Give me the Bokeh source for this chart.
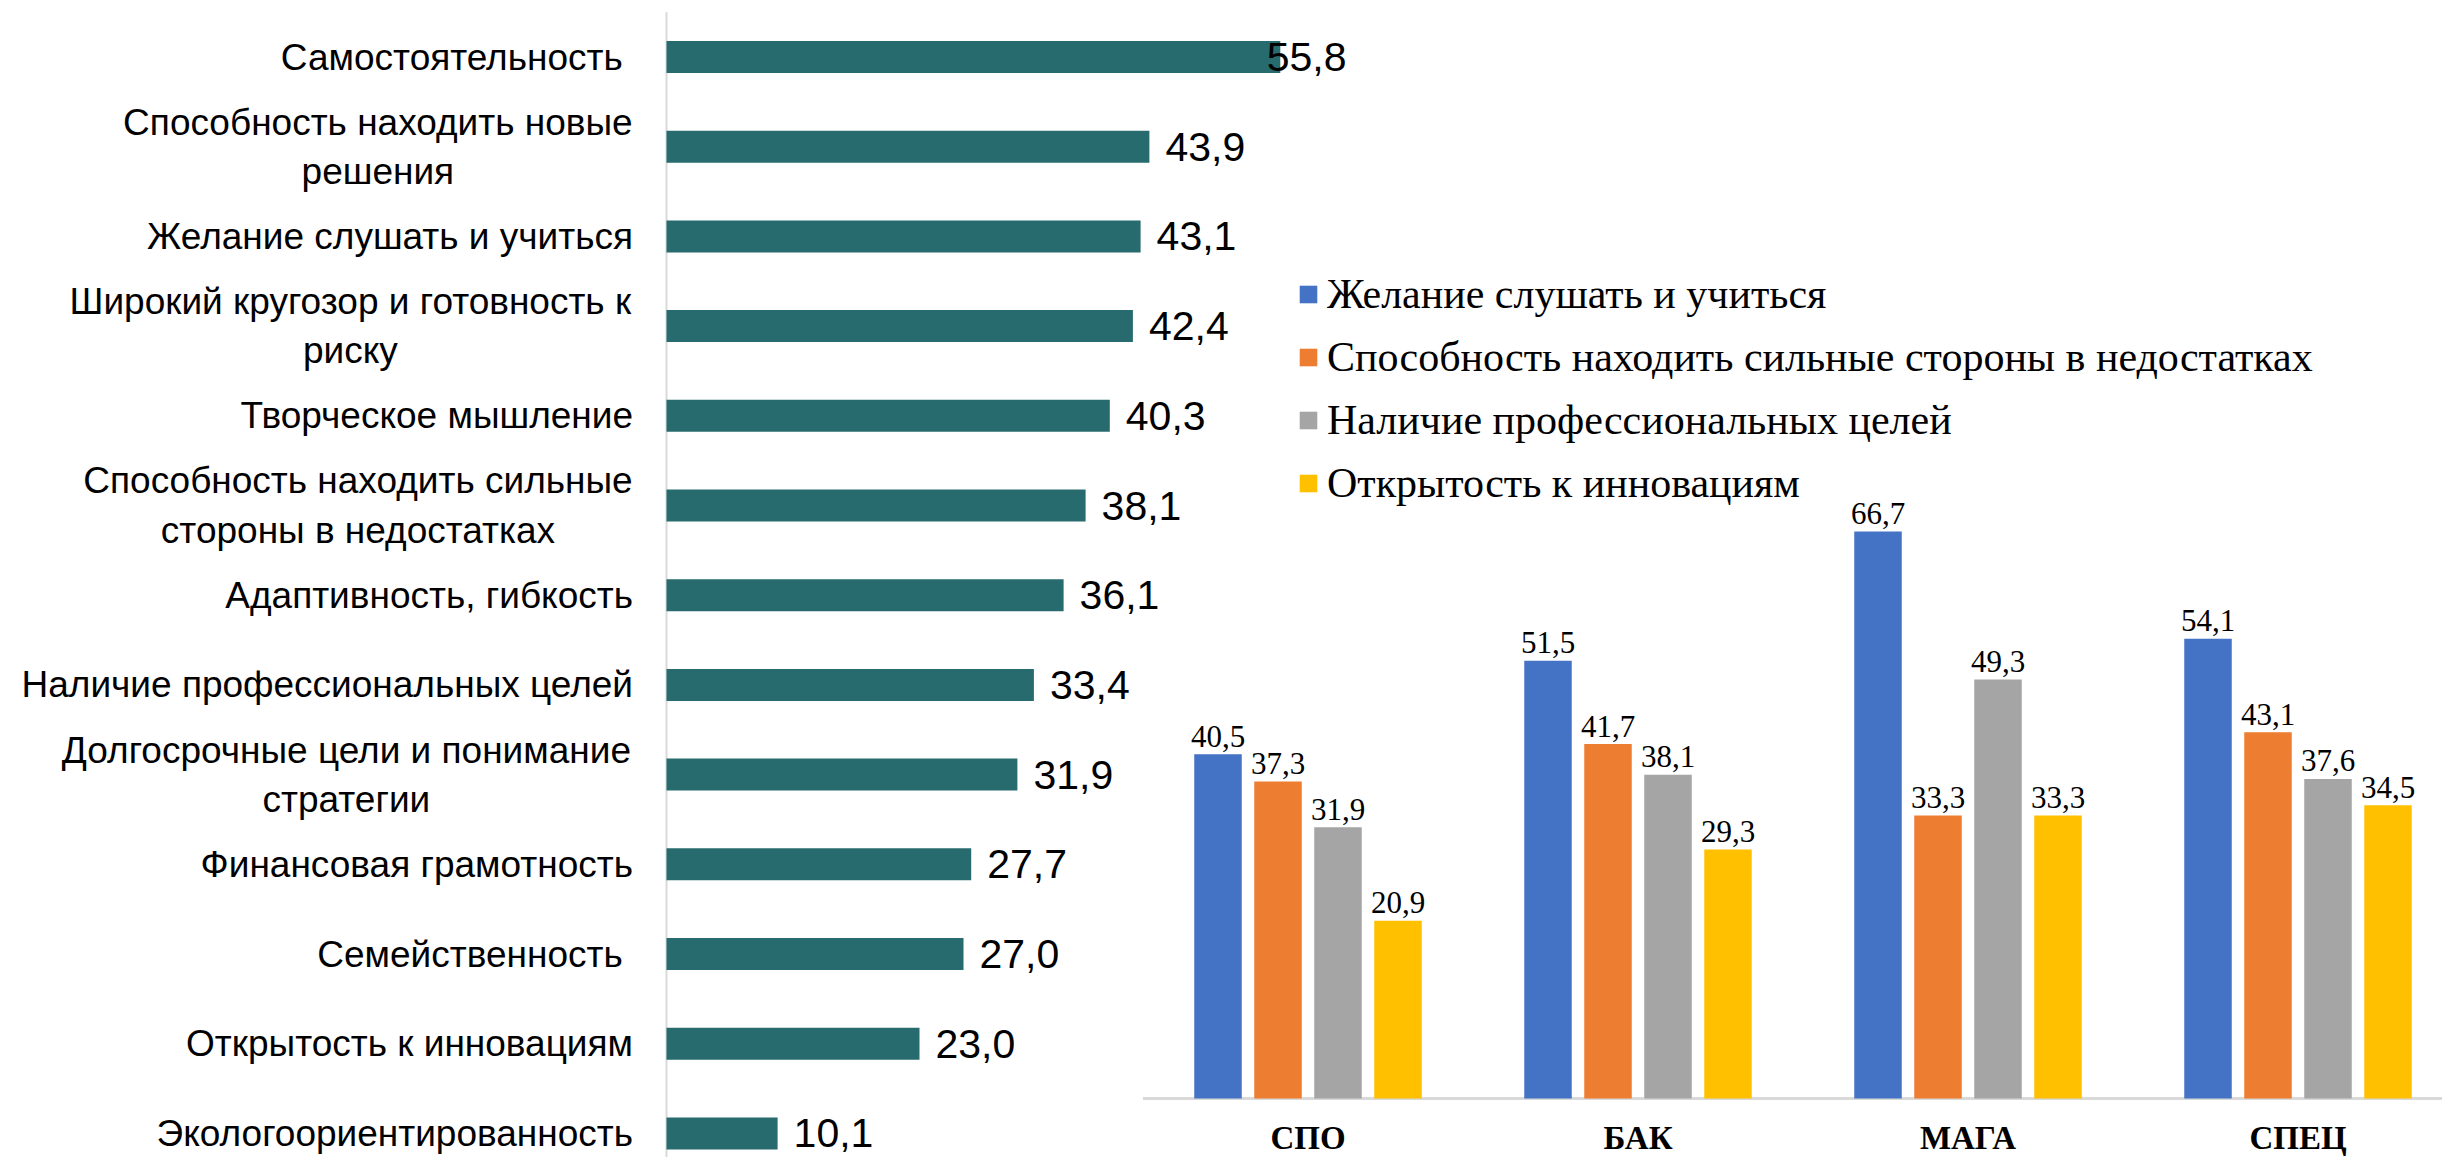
import numpy as np
from bokeh.plotting import figure
from bokeh.models import Range1d, Legend, LegendItem
from bokeh.core.properties import value
from bokeh.embed import file_html
from bokeh.resources import INLINE

# ---------------- data ----------------
qualities = [
    "Самостоятельность ",
    "Способность находить новые\nрешения",
    "Желание слушать и учиться",
    "Широкий кругозор и готовность к\nриску",
    "Творческое мышление",
    "Способность находить сильные\nстороны в недостатках",
    "Адаптивность, гибкость",
    "Наличие профессиональных целей",
    "Долгосрочные цели и понимание\nстратегии",
    "Финансовая грамотность",
    "Семейственность ",
    "Открытость к инновациям",
    "Экологоориентированность",
]
quality_values = [55.8, 43.9, 43.1, 42.4, 40.3, 38.1, 36.1, 33.4, 31.9, 27.7, 27.0, 23.0, 10.1]

levels = ["СПО", "БАК", "МАГА", "СПЕЦ"]
series_names = [
    "Желание слушать и учиться",
    "Способность находить сильные стороны в недостатках",
    "Наличие профессиональных целей",
    "Открытость к инновациям",
]
s_learn = [40.5, 51.5, 66.7, 54.1]
s_strengths = [37.3, 41.7, 33.3, 43.1]
s_goals = [31.9, 38.1, 49.3, 37.6]
s_innov = [20.9, 29.3, 33.3, 34.5]
series_values = [s_learn, s_strengths, s_goals, s_innov]
series_colors = ["#4472C4", "#ED7D31", "#A5A5A5", "#FFC000"]
teal = "#286B6E"

# ---------------- layout constants (pixels) ----------------
W, H = 2442, 1157
L_ZERO = 666.0      # x of left value axis
L_PPU = 11.0        # px per unit (left)
ROW0 = 56.5         # y of first row
ROW_PX = 89.7       # row pitch
R_G0 = 1307.5       # x of first group center
G_PX = 330.0        # group pitch
BASE = 1098.0       # y of right baseline
R_PPU = 8.5         # px per unit (right)

ARIAL = {
    'а': 556, 'б': 573, 'в': 531, 'г': 365, 'д': 583, 'е': 556, 'ж': 669, 'з': 458,
    'и': 559, 'й': 559, 'к': 438, 'л': 583, 'м': 688, 'н': 552, 'о': 556, 'п': 542,
    'р': 556, 'с': 500, 'т': 458, 'у': 500, 'ф': 823, 'х': 500, 'ц': 583, 'ч': 521,
    'ш': 802, 'щ': 823, 'ъ': 625, 'ы': 719, 'ь': 521, 'э': 510, 'ю': 750, 'я': 542,
    'С': 722, 'Ш': 906, 'Д': 677, ' ': 278, ',': 278,
}


def arial_width(s, size):
    return sum(ARIAL.get(c, 556) for c in s) * size / 1000.0


def fmt(v):
    return f"{v:.1f}".replace(".", ",")


p = figure(
    width=W, height=H, output_backend="svg", toolbar_location=None,
    x_range=Range1d(-L_ZERO / L_PPU, (W - L_ZERO) / L_PPU),
    y_range=Range1d((H - ROW0) / ROW_PX, -ROW0 / ROW_PX),
    x_axis_location=None, y_axis_location=None, min_border=0,
)
p.grid.visible = False
p.outline_line_color = None
p.background_fill_color = "white"

p.extra_x_ranges = {"rx": Range1d(-R_G0 / G_PX, (W - R_G0) / G_PX)}
p.extra_y_ranges = {"ry": Range1d(-(H - BASE) / R_PPU, BASE / R_PPU)}

# ---------------- left chart ----------------
rows = np.arange(len(qualities))
p.segment(x0=[0], y0=[-0.5], x1=[0], y1=[len(qualities) + 1], line_color="#D9D9D9", line_width=2)
p.hbar(y=rows, left=0, right=quality_values, height=32 / ROW_PX, fill_color=teal, line_color=None)

LABEL_SIZE = 37
right_edge = -33.5 / L_PPU
single = [(i, q) for i, q in enumerate(qualities) if "\n" not in q]
multi = [(i, q) for i, q in enumerate(qualities) if "\n" in q]
p.text(x=[right_edge] * len(single), y=[i for i, _ in single], text=[q for _, q in single],
       text_font=value("Liberation Sans"), text_font_size=f"{LABEL_SIZE}px",
       text_align="right", text_baseline="middle", text_color="black")
centers = [right_edge - max(arial_width(l, LABEL_SIZE) for l in q.split("\n")) / 2 / L_PPU for _, q in multi]
p.text(x=centers, y=[i for i, _ in multi], text=[q for _, q in multi],
       text_font=value("Liberation Sans"), text_font_size=f"{LABEL_SIZE}px",
       text_align="center", text_baseline="middle", text_color="black", text_line_height=1.2)

VAL_SIZE = 41
limit_px = 1346 - L_ZERO
vx = [min(v + 16 / L_PPU, (limit_px - arial_width(fmt(v), VAL_SIZE)) / L_PPU) for v in quality_values]
p.text(x=vx, y=rows, text=[fmt(v) for v in quality_values],
       text_font=value("Liberation Sans"), text_font_size=f"{VAL_SIZE}px",
       text_align="left", text_baseline="middle", text_color="black")

# ---------------- right chart ----------------
p.segment(x0=[-0.5], y0=[0], x1=[len(levels) + 0.5], y1=[0], line_color="#D9D9D9", line_width=3,
          x_range_name="rx", y_range_name="ry")
gx = np.arange(len(levels))
bar_w = 47.5 / G_PX
step = 60 / G_PX
items = []
for k, (name, vals, col) in enumerate(zip(series_names, series_values, series_colors)):
    xs = gx + (k - 1.5) * step
    r = p.vbar(x=xs, top=vals, bottom=0, width=bar_w, fill_color=col, line_color=None,
               x_range_name="rx", y_range_name="ry")
    p.text(x=xs, y=[v + 18 / R_PPU for v in vals], text=[fmt(v) for v in vals],
           text_font=value("Liberation Serif"), text_font_size="31px",
           text_align="center", text_baseline="alphabetic", text_color="black",
           x_range_name="rx", y_range_name="ry")
    items.append(LegendItem(label=name, renderers=[r]))

p.text(x=gx, y=[-39 / R_PPU] * len(levels), text=levels,
       text_font=value("Liberation Serif"), text_font_size="33px", text_font_style="bold",
       text_align="center", text_baseline="middle", text_color="black",
       x_range_name="rx", y_range_name="ry")

ITEM_H, SPACING = 48, 15
legend_top = 293.8 - ITEM_H / 2
legend_bottom = legend_top + 4 * ITEM_H + 3 * SPACING
legend = Legend(
    items=items, location=(1297, H - legend_bottom), orientation="vertical",
    glyph_width=22, glyph_height=22, label_standoff=8,
    label_text_font="Liberation Serif", label_text_font_size="42px", label_text_color="black",
    label_height=ITEM_H, spacing=SPACING, padding=0, margin=0,
    border_line_color=None, background_fill_alpha=0,
)
p.add_layout(legend)

open("out.html", "w").write(file_html(p, INLINE))
